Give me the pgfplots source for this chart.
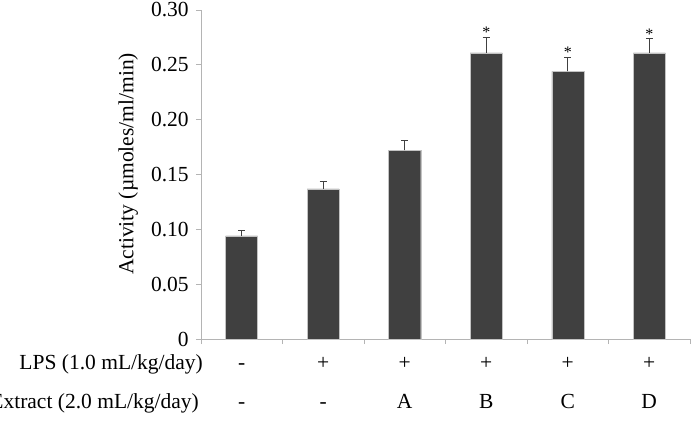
\documentclass[border=0pt]{standalone}
\usepackage{fontspec}
\setmainfont{Liberation Serif}
\usepackage{pgfplots}
\pgfplotsset{compat=1.18}
\definecolor{barfill}{HTML}{404040}
\definecolor{axgray}{HTML}{B4B4B4}
\tikzset{
  row1/.style={anchor=base, inner sep=0pt, yshift=-30bp},
  row2/.style={anchor=base, inner sep=0pt, yshift=-69bp},
  star/.style={font=\fontsize{16bp}{16bp}\selectfont, anchor=base, inner sep=0pt},
}
\begin{document}
\fontsize{21.5bp}{25bp}\selectfont
\begin{tikzpicture}
\begin{axis}[
  scale only axis, width=489bp, height=329bp,
  xmin=-0.5, xmax=5.5, ymin=0, ymax=0.30,
  axis x line*=bottom, axis y line*=left,
  axis line style={axgray, line width=0.8pt},
  tick style={axgray, line width=0.8pt},
  tick align=outside, major tick length=5bp,
  xtick={-0.5,0.5,1.5,2.5,3.5,4.5,5.5}, xticklabels={},
  ytick={0,0.05,0.1,0.15,0.2,0.25,0.3},
  yticklabels={0,0.05,0.10,0.15,0.20,0.25,0.30},
  ylabel={Activity (µmoles/ml/min)},
  ylabel style={at={(axis description cs:-0.149,0.532)}, anchor=center},
  clip=false,
]
\addplot[ybar, bar width=32bp, fill=barfill, draw=axgray!80, line width=0.5pt,
  error bars/.cd, y dir=plus, y explicit, error mark=|,
  error bar style={barfill, line width=0.7pt},
  error mark options={barfill, line width=0.7pt, mark size=3.5bp}]
coordinates {
  (0,0.094) +- (0,0.005)
  (1,0.137) +- (0,0.007)
  (2,0.172) +- (0,0.009)
  (3,0.261) +- (0,0.014)
  (4,0.244) +- (0,0.013)
  (5,0.261) +- (0,0.013)
};
\node[star] at (axis cs:3,0.2745) {*};
\node[star] at (axis cs:4,0.2565) {*};
\node[star] at (axis cs:5,0.2735) {*};
\node[anchor=base east, inner sep=0pt, xshift=2bp, yshift=-30bp] at (axis cs:-0.5,0) {LPS (1.0 mL/kg/day)};
\node[anchor=base east, inner sep=0pt, xshift=-2bp, yshift=-69bp] at (axis cs:-0.5,0) {Extract (2.0 mL/kg/day)};
\node[row1] at (axis cs:0,0) {-};
\node[row1] at (axis cs:1,0) {+};
\node[row1] at (axis cs:2,0) {+};
\node[row1] at (axis cs:3,0) {+};
\node[row1] at (axis cs:4,0) {+};
\node[row1] at (axis cs:5,0) {+};
\node[row2] at (axis cs:0,0) {-};
\node[row2] at (axis cs:1,0) {-};
\node[row2] at (axis cs:2,0) {A};
\node[row2] at (axis cs:3,0) {B};
\node[row2] at (axis cs:4,0) {C};
\node[row2] at (axis cs:5,0) {D};
\coordinate (bl) at (rel axis cs:0,0);
\coordinate (tr) at (rel axis cs:1,1);
\end{axis}
\pgfresetboundingbox
\path[use as bounding box] ([xshift=-201bp,yshift=-85bp]bl) rectangle ([xshift=2bp,yshift=10bp]tr);
\end{tikzpicture}
\end{document}
